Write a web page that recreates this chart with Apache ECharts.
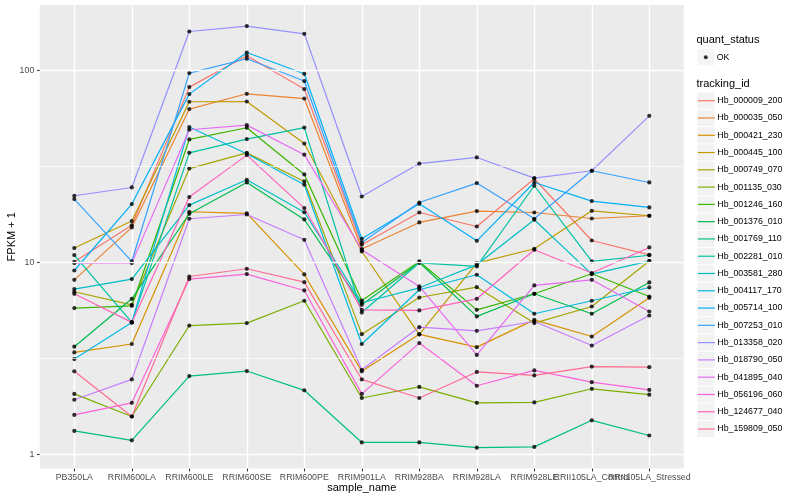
<!DOCTYPE html>
<html><head><meta charset="utf-8">
<script src="https://cdn.jsdelivr.net/npm/echarts@6/dist/echarts.min.js"></script>
<style>html,body{margin:0;padding:0;background:#fff}#c{width:800px;height:500px}</style>
</head><body><div id="c"></div>
<script>
const categories = ['PB350LA','RRIM600LA','RRIM600LE','RRIM600SE','RRIM600PE','RRIM901LA','RRIM928BA','RRIM928LA','RRIM928LE','RRII105LA_Control','RRII105LA_Stressed'];
const trackingIds = ['Hb_000009_200','Hb_000035_050','Hb_000421_230','Hb_000445_100','Hb_000749_070','Hb_001135_030','Hb_001246_160','Hb_001376_010','Hb_001769_110','Hb_002281_010','Hb_003581_280','Hb_004117_170','Hb_005714_100','Hb_007253_010','Hb_013358_020','Hb_018790_050','Hb_041895_040','Hb_056196_060','Hb_124677_040','Hb_159809_050'];
// FPKM + 1 per sample
const Hb_000009_200 = [10.06, 15.6, 81.9, 119.3, 80.0, 12.34, 18.18, 15.37, 27.25, 12.99, 10.94];
const Hb_000035_050 = [8.10, 15.2, 62.9, 75.6, 71.4, 11.72, 16.13, 18.49, 18.18, 16.92, 17.48];
const Hb_000421_230 = [3.39, 3.75, 18.34, 17.97, 8.64, 2.70, 4.21, 3.61, 5.01, 4.10, 6.53];
const Hb_000445_100 = [11.86, 16.4, 68.7, 68.9, 41.6, 11.38, 4.21, 9.90, 11.76, 18.55, 17.48];
const Hb_000749_070 = [7.02, 6.00, 30.8, 37.2, 26.4, 4.22, 6.55, 7.42, 4.82, 5.88, 10.15];
const Hb_001135_030 = [2.06, 1.57, 4.68, 4.82, 6.30, 1.96, 2.24, 1.85, 1.86, 2.19, 2.04];
const Hb_001246_160 = [5.77, 5.93, 43.7, 50.3, 28.7, 6.32, 10.10, 5.65, 6.85, 8.71, 6.63];
const Hb_001376_010 = [3.63, 6.45, 17.90, 26.07, 16.72, 6.00, 9.98, 5.22, 6.85, 5.39, 7.85];
const Hb_001769_110 = [1.32, 1.18, 2.55, 2.71, 2.15, 1.15, 1.15, 1.08, 1.09, 1.50, 1.25];
const Hb_002281_010 = [10.90, 4.86, 37.2, 43.9, 50.4, 5.47, 9.94, 9.51, 25.06, 10.10, 10.88];
const Hb_003581_280 = [7.25, 8.17, 19.87, 26.92, 18.23, 6.15, 7.36, 9.70, 16.66, 8.68, 10.15];
const Hb_004117_170 = [3.13, 4.86, 50.7, 36.8, 25.36, 3.75, 7.19, 8.61, 5.39, 6.30, 7.39];
const Hb_005714_100 = [9.06, 20.11, 75.3, 124.1, 96.1, 13.26, 20.18, 12.94, 26.07, 20.85, 19.31];
const Hb_007253_010 = [21.35, 10.10, 96.9, 115.1, 88.1, 12.69, 20.50, 25.88, 16.86, 30.0, 26.07];
const Hb_013358_020 = [22.22, 24.55, 159.7, 170.4, 155.3, 22.03, 32.7, 35.2, 27.48, 30.0, 58.0];
const Hb_018790_050 = [1.92, 2.45, 16.86, 17.75, 13.10, 2.75, 4.59, 4.39, 4.91, 3.68, 5.28];
const Hb_041895_040 = [9.90, 9.90, 49.1, 51.9, 36.4, 11.62, 7.48, 3.29, 7.57, 8.10, 5.54];
const Hb_056196_060 = [1.60, 1.85, 8.17, 8.68, 7.13, 2.06, 3.79, 2.27, 2.73, 2.37, 2.16];
const Hb_124677_040 = [6.85, 4.86, 21.88, 36.2, 19.17, 5.65, 5.61, 6.45, 11.62, 8.79, 11.95];
const Hb_159809_050 = [2.70, 1.57, 8.43, 9.25, 7.88, 2.45, 1.96, 2.68, 2.57, 2.86, 2.84];
const seriesValues = [Hb_000009_200, Hb_000035_050, Hb_000421_230, Hb_000445_100, Hb_000749_070, Hb_001135_030, Hb_001246_160, Hb_001376_010, Hb_001769_110, Hb_002281_010, Hb_003581_280, Hb_004117_170, Hb_005714_100, Hb_007253_010, Hb_013358_020, Hb_018790_050, Hb_041895_040, Hb_056196_060, Hb_124677_040, Hb_159809_050];
const quantStatus = ['OK'];
const yTickLabels = [1, 10, 100];
const yMinorBreaks = [3.1623, 31.623];
const yMin = 0.840, yMax = 219.5;

const palette = ['#F8766D','#EA8331','#D89000','#C09B00','#A3A500','#7CAE00','#39B600','#00BB4E','#00BF7D','#00C1A3','#00BFC4','#00BAE0','#00B0F6','#35A2FF','#9590FF','#C77CFF','#E76BF3','#FA62DB','#FF62BC','#FF6C91'];
const FONT = 'Liberation Sans, Arial, Helvetica, sans-serif';

const chart = echarts.init(document.getElementById('c'), null, {renderer: 'canvas'});

const panel = {left: 39.8, top: 5, width: 644, height: 463.6};
const step = panel.width / (categories.length - 1 + 1.2);
const dataGrid = {left: panel.left + 0.6 * step, top: panel.top, width: step * (categories.length - 1), height: panel.height};

const gridSeries = {
  type: 'line', xAxisIndex: 0, yAxisIndex: 0, data: [], silent: true, z: 1,
  markLine: {
    silent: true, symbol: ['none', 'none'], label: {show: false}, animation: false,
    emphasis: {disabled: true},
    data: yTickLabels.map(v => ({yAxis: v, lineStyle: {color: '#FFFFFF', width: 1.42, type: 'solid'}}))
      .concat(yMinorBreaks.map(v => ({yAxis: v, lineStyle: {color: '#FFFFFF', width: 0.71, type: 'solid'}})))
  }
};

const lineSeries = trackingIds.map((id, i) => ({
  type: 'line', name: id, xAxisIndex: 1, yAxisIndex: 1,
  data: seriesValues[i], symbol: 'none', showSymbol: false, silent: true,
  color: palette[i], lineStyle: {color: palette[i], width: 1.2}, z: 2
}));

const points = [];
seriesValues.forEach(vals => vals.forEach((v, j) => points.push([categories[j], v])));
const pointSeries = {
  type: 'scatter', name: 'OK', xAxisIndex: 1, yAxisIndex: 1, data: points,
  symbol: 'circle', symbolSize: 4.2, itemStyle: {color: '#000000'}, silent: true, z: 3
};

const keyW = 17, keyH = 16.3, keyGap = 0.98;
const dotIcon = 'path://M0,0M17,16.3M6.5,8.15A2,2,0,1,1,10.5,8.15A2,2,0,1,1,6.5,8.15Z';
const legText = {fontFamily: FONT, fontSize: 8.8, color: '#000000', padding: [0, 0, 0, -2.6]};
const okTop = 49.05, idTop = 92.55, legLeft = 697.3;

const option = {
  animation: false,
  backgroundColor: '#FFFFFF',
  textStyle: {fontFamily: FONT},
  title: [
    {text: 'quant_status', left: 696.5, top: 34.3, padding: 0, textStyle: {fontFamily: FONT, fontSize: 11, fontWeight: 'normal', color: '#000'}},
    {text: 'tracking_id', left: 696.5, top: 78.6, padding: 0, textStyle: {fontFamily: FONT, fontSize: 11, fontWeight: 'normal', color: '#000'}}
  ],
  grid: [
    Object.assign({show: true, backgroundColor: '#EBEBEB', borderWidth: 0, containLabel: false, outerBoundsMode: 'none', z: 0}, panel),
    Object.assign({show: false, containLabel: false, outerBoundsMode: 'none'}, dataGrid)
  ],
  xAxis: [
    {gridIndex: 0, type: 'value', min: 0, max: 1, show: false},
    {gridIndex: 1, type: 'category', data: categories, boundaryGap: false, z: 1,
     axisLine: {show: false},
     axisTick: {show: true, interval: 0, length: 2.75, lineStyle: {color: '#333333', width: 1.07}},
     axisLabel: {interval: 0, margin: 4.6, color: '#4D4D4D', fontSize: 8.8, fontFamily: FONT, hideOverlap: false},
     splitLine: {show: true, interval: 0, lineStyle: {color: '#FFFFFF', width: 1.42}},
     name: 'sample_name', nameLocation: 'middle', nameGap: 13.5, nameMoveOverlap: false,
     nameTextStyle: {color: '#000000', fontSize: 11, fontFamily: FONT}}
  ],
  yAxis: [
    {gridIndex: 0, type: 'log', logBase: 10, min: yMin, max: yMax, z: 1,
     axisLine: {show: false},
     axisTick: {show: true, length: 2.75, customValues: yTickLabels, lineStyle: {color: '#333333', width: 1.07}},
     axisLabel: {customValues: yTickLabels, margin: 5.5, color: '#4D4D4D', fontSize: 8.8, fontFamily: FONT,
                 formatter: v => String(Math.round(v))},
     splitLine: {show: false}, minorTick: {show: false}, minorSplitLine: {show: false},
     name: 'FPKM + 1', nameLocation: 'middle', nameGap: 22, nameRotate: 90, nameMoveOverlap: false,
     nameTextStyle: {color: '#000000', fontSize: 11, fontFamily: FONT}},
    {gridIndex: 1, type: 'log', logBase: 10, min: yMin, max: yMax, show: false, splitLine: {show: false}}
  ],
  legend: [
    {data: quantStatus, orient: 'vertical', left: legLeft, top: okTop, padding: 0, itemWidth: keyW, itemHeight: keyH, itemGap: keyGap,
     icon: 'rect', itemStyle: {color: '#F2F2F2', borderWidth: 0}, formatter: () => '', selectedMode: false, textStyle: legText},
    {data: quantStatus, orient: 'vertical', left: legLeft, top: okTop, padding: 0, itemWidth: keyW, itemHeight: keyH, itemGap: keyGap,
     icon: dotIcon, itemStyle: {color: '#000000', borderWidth: 0}, selectedMode: false, textStyle: legText},
    {data: trackingIds, orient: 'vertical', left: legLeft, top: idTop, padding: 0, itemWidth: keyW, itemHeight: keyH, itemGap: keyGap,
     icon: 'rect', itemStyle: {color: '#F2F2F2', borderWidth: 0}, formatter: () => '', selectedMode: false, textStyle: legText},
    {data: trackingIds, orient: 'vertical', left: legLeft, top: idTop, padding: 0, itemWidth: keyW, itemHeight: keyH / 0.8, itemGap: keyGap,
     itemStyle: {opacity: 0}, lineStyle: {width: 1.2}, selectedMode: false, textStyle: legText}
  ],
  series: [gridSeries].concat(lineSeries, [pointSeries])
};
chart.setOption(option);
</script></body></html>
